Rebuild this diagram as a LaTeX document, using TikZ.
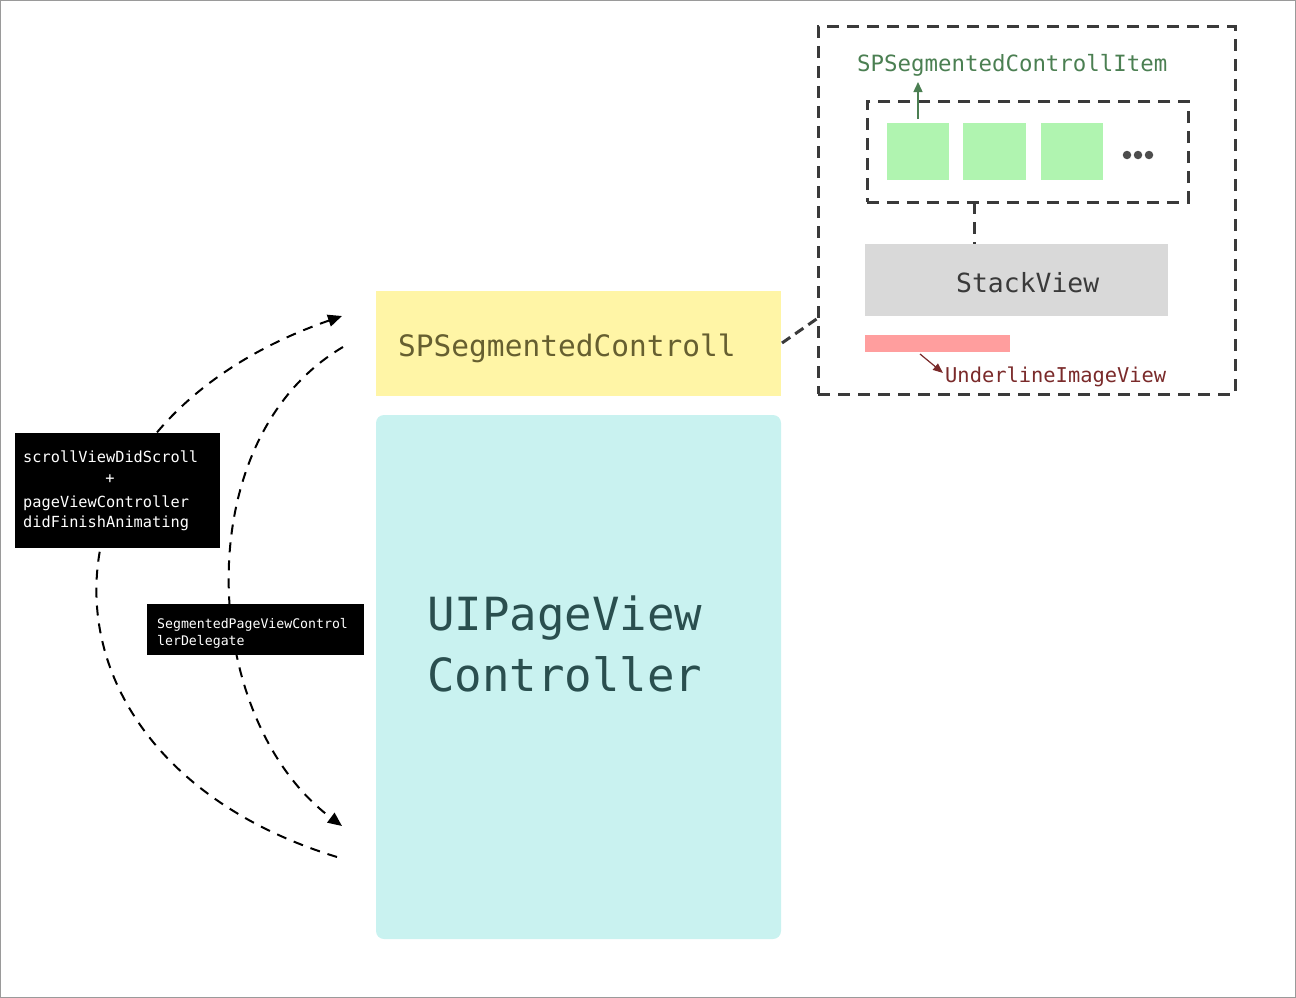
\documentclass[tikz,border=0pt]{standalone}
\usepackage{fontspec}
\newfontfamily\mono{DejaVu Sans Mono}
\usetikzlibrary{arrows.meta}
\definecolor{frameGray}{HTML}{9A9A9A}
\definecolor{dashGray}{HTML}{3A3A3A}
\definecolor{yellowFill}{HTML}{FFF5A6}
\definecolor{cyanFill}{HTML}{C9F2F0}
\definecolor{greenFill}{HTML}{B0F4B0}
\definecolor{stackFill}{HTML}{D9D9D9}
\definecolor{pinkFill}{HTML}{FF9E9E}
\definecolor{itemGreen}{HTML}{4B7F52}
\definecolor{underRed}{HTML}{7A2A2A}
\definecolor{oliveText}{HTML}{665F30}
\definecolor{tealText}{HTML}{2A4F4F}
\definecolor{dotGray}{HTML}{4D4D4D}
\tikzset{
  txt/.style={inner sep=0pt, anchor=base west, font=\mono},
  boxdash/.style={draw=dashGray, line width=3pt, dash pattern=on 12pt off 8pt},
  flow/.style={draw=black, line width=2pt, dash pattern=on 10pt off 8pt},
  flowtip/.style={-{Triangle[length=14pt,width=12pt]}},
  blackbox/.style={fill=black, draw=none, inner sep=0pt, outer sep=0pt, anchor=north west},
  plainbox/.style={draw=none, inner sep=0pt, outer sep=0pt, anchor=north west},
}
\begin{document}
\begin{tikzpicture}[x=1pt,y=-1pt]
\useasboundingbox (0,0) rectangle (1296,998);
\draw[frameGray, line width=1pt] (0.5,0.5) rectangle (1295.5,997.5);

% main boxes
\node[plainbox, fill=yellowFill, minimum width=405pt, minimum height=105pt] (seg) at (376,291) {};
\node[plainbox, fill=cyanFill, rounded corners=8pt, minimum width=405pt, minimum height=524pt] (pvc) at (376,415) {};
\node[txt, text=oliveText, font=\mono\fontsize{29.5}{34}\selectfont] (segtxt) at (398,356) {SPSegmentedControll};
\node[txt, text=tealText, font=\mono\fontsize{45.7}{52}\selectfont] (pvc1) at (427,630) {UIPageView};
\node[txt, text=tealText, font=\mono\fontsize{45.7}{52}\selectfont] (pvc2) at (427,691) {Controller};

% detail panel
\node[plainbox, boxdash, minimum width=417pt, minimum height=367pt] (outer) at (818,27) {};
\node[plainbox, boxdash, minimum width=321pt, minimum height=101pt] (inner) at (867,101) {};
\node[plainbox, fill=greenFill, minimum width=62pt, minimum height=57pt] (g1) at (887,123) {};
\node[plainbox, fill=greenFill, minimum width=63pt, minimum height=57pt] (g2) at (963,123) {};
\node[plainbox, fill=greenFill, minimum width=62pt, minimum height=57pt] (g3) at (1041,123) {};
\foreach \i/\x in {1/1127,2/1138,3/1149}
  \node[circle, fill=dotGray, inner sep=0pt, minimum size=8.5pt] (dot\i) at (\x,155) {};
\node[txt, text=itemGreen, font=\mono\fontsize{22.4}{27}\selectfont] (itemtxt) at (857,72) {SPSegmentedControllItem};
\coordinate (itemtail) at (918,119);
\coordinate (itemhead) at (918,82);
\draw[itemGreen, line width=1.4pt, -{Triangle[length=10pt,width=9pt]}] (itemtail) -- (itemhead);

\node[plainbox, fill=stackFill, minimum width=303pt, minimum height=72pt] (stack) at (865,244) {};
\node[txt, text=dashGray, font=\mono\fontsize{26.4}{31}\selectfont] (stacktxt) at (956,292) {StackView};
\draw[boxdash] (inner.south -| 974,0) -- (stack.north -| 974,0);

\node[plainbox, fill=pinkFill, minimum width=145pt, minimum height=17pt] (under) at (865,335) {};
\coordinate (undtail) at (920,354);
\coordinate (undhead) at (943,373);
\draw[underRed, line width=1.2pt, -{Triangle[length=10pt,width=8pt]}] (undtail) -- (undhead);
\node[txt, text=underRed, font=\mono\fontsize{20.4}{25}\selectfont] (undtxt) at (945,382) {UnderlineImageView};

% link yellow -> panel
\coordinate (segr) at (782,343);
\coordinate (outl) at (818,318);
\draw[boxdash, dash pattern=on 10pt off 6pt] (segr) -- (outl);

% flow curves
\coordinate (a0) at (337,857);
\coordinate (a1) at (342,316);
\coordinate (b0) at (343,347);
\coordinate (b1) at (342,826);
\draw[flow, flowtip] (a0) .. controls (20,760) and (15,430) .. (a1);
\draw[flow, flowtip] (b0) .. controls (185,440) and (200,720) .. (b1);

% black label boxes
\node[blackbox, minimum width=205pt, minimum height=115pt] (lab1) at (15,433) {};
\node[txt, text=white, font=\mono\fontsize{15.3}{20}\selectfont] (l1a) at (23,462) {scrollViewDidScroll};
\node[txt, text=white, font=\mono\fontsize{15.3}{20}\selectfont, anchor=base] (l1b) at (110,483) {+};
\node[txt, text=white, font=\mono\fontsize{15.3}{20}\selectfont] (l1c) at (23,507) {pageViewController};
\node[txt, text=white, font=\mono\fontsize{15.3}{20}\selectfont] (l1d) at (23,527) {didFinishAnimating};

\node[blackbox, minimum width=217pt, minimum height=51pt] (lab2) at (147,604) {};
\node[txt, text=white, font=\mono\fontsize{13.2}{17}\selectfont] (l2a) at (157,628) {SegmentedPageViewControl};
\node[txt, text=white, font=\mono\fontsize{13.2}{17}\selectfont] (l2b) at (157,645) {lerDelegate};
\end{tikzpicture}
\end{document}
